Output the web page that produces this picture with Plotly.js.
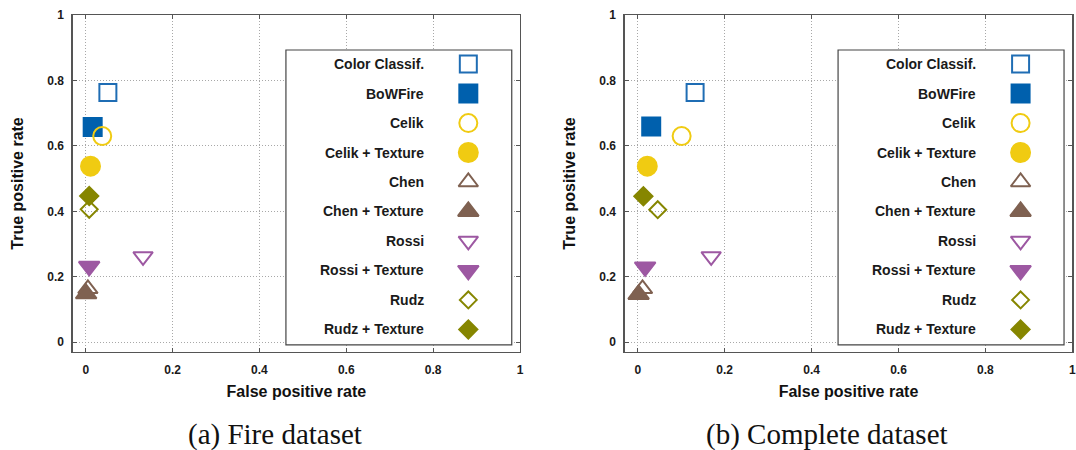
<!DOCTYPE html>
<html>
<head>
<meta charset="utf-8">
<script src="https://cdn.plot.ly/plotly-3.0.1.min.js"></script>
<style>html,body{margin:0;padding:0;background:#fff;}#chart{width:1076px;height:450px;}</style>
</head>
<body>
<div id="chart"></div>
<script>
// ---- data ----
const methods = ['Color Classif.', 'BoWFire', 'Celik', 'Celik + Texture', 'Chen', 'Chen + Texture', 'Rossi', 'Rossi + Texture', 'Rudz', 'Rudz + Texture'];
const fireFPR = [0.051, 0.016, 0.038, 0.011, 0.005, 0.001, 0.132, 0.008, 0.008, 0.008];
const fireTPR = [0.763, 0.658, 0.630, 0.538, 0.163, 0.148, 0.262, 0.232, 0.406, 0.447];
const completeFPR = [0.132, 0.031, 0.101, 0.022, 0.011, 0.002, 0.169, 0.017, 0.046, 0.013];
const completeTPR = [0.763, 0.659, 0.630, 0.538, 0.163, 0.146, 0.262, 0.230, 0.405, 0.446];
const tickVals = [0, 0.2, 0.4, 0.6, 0.8, 1];
const tickText = ['0', '0.2', '0.4', '0.6', '0.8', '1'];
const captions = ['(a) Fire dataset', '(b) Complete dataset'];

// ---- styles ----
const symbols = ['square-open', 'square', 'circle-open', 'circle', 'triangle-up-open', 'triangle-up', 'triangle-down-open', 'triangle-down', 'diamond-open', 'diamond'];
const colors = ['#1f6db4', '#0060ad', '#f0cb12', '#f0cb12', '#7f6151', '#7f6151', '#9d58a2', '#9d58a2', '#868600', '#868600'];
const sizes = [17, 18, 18, 19, 17, 18, 17, 18, 13, 14];

const font = 'Liberation Sans, Arial, sans-serif';
const traces = [];
const annotations = [];
const shapes = [];

function rowY(i) { return 0.850 - 0.0901 * i; }

function addPanel(fpr, tpr, xa, ya) {
  methods.forEach((m, i) => {
    traces.push({
      type: 'scatter', mode: 'markers', name: m,
      x: [fpr[i]], y: [tpr[i]], xaxis: xa, yaxis: ya,
      showlegend: false, hoverinfo: 'name+x+y',
      marker: { symbol: symbols[i], size: sizes[i], color: colors[i], line: { width: 2, color: colors[i] } }
    });
  });
  // custom legend (symbol on right, right-aligned labels)
  const xref = xa === 'x' ? 'x' : 'x2';
  const yref = ya === 'y' ? 'y' : 'y2';
  shapes.push({ type: 'rect', xref: xref, yref: yref, x0: 0.461, x1: 0.981, y0: -0.008, y1: 0.893,
    line: { color: '#444', width: 1.2 }, fillcolor: '#ffffff', layer: 'between' });
  methods.forEach((m, i) => {
    traces.push({
      type: 'scatter', mode: 'markers', name: m,
      x: [0.881], y: [rowY(i)], xaxis: xa, yaxis: ya,
      showlegend: false, hoverinfo: 'skip',
      marker: { symbol: symbols[i], size: sizes[i], color: colors[i], line: { width: 2, color: colors[i] } }
    });
    annotations.push({ xref: xref, yref: yref, x: 0.784, y: rowY(i), text: m, showarrow: false,
      xanchor: 'right', yanchor: 'middle', font: { family: font, size: 14, color: '#1a1a1a', weight: 'bold' } });
  });
}
addPanel(fireFPR, fireTPR, 'x', 'y');
addPanel(completeFPR, completeTPR, 'x2', 'y2');

annotations.push({ xref: 'paper', yref: 'paper', x: 275 / 1076, y: 1 - 434 / 450, text: captions[0], showarrow: false,
  xanchor: 'center', yanchor: 'middle', font: { family: 'Liberation Serif, Times New Roman, serif', size: 29, color: '#111' } });
annotations.push({ xref: 'paper', yref: 'paper', x: 827 / 1076, y: 1 - 434 / 450, text: captions[1], showarrow: false,
  xanchor: 'center', yanchor: 'middle', font: { family: 'Liberation Serif, Times New Roman, serif', size: 29, color: '#111' } });

function axisX(domain, anchor) {
  return {
    domain: domain, anchor: anchor, range: [-0.03, 1.0], tickvals: tickVals, ticktext: tickText,
    showgrid: true, gridcolor: '#a8a8a8', griddash: '1px,2px', gridwidth: 1, zeroline: false,
    showline: true, mirror: 'ticks', linecolor: '#555', linewidth: 1.3,
    ticks: 'inside', ticklen: 4, tickcolor: '#555', ticklabelstandoff: 6,
    tickfont: { family: font, size: 12, color: '#1a1a1a', weight: 'bold' },
    title: { text: 'False positive rate', standoff: 10, font: { family: font, size: 16, color: '#111', weight: 'bold' } },
    automargin: false, fixedrange: true
  };
}
function axisY(anchor) {
  return {
    domain: [1 - 352 / 450, 1 - 15 / 450], anchor: anchor, range: [-0.03, 1.0], tickvals: tickVals, ticktext: tickText,
    showgrid: true, gridcolor: '#a8a8a8', griddash: '1px,2px', gridwidth: 1, zeroline: false,
    showline: true, mirror: 'ticks', linecolor: '#555', linewidth: 1.3,
    ticks: 'inside', ticklen: 4, tickcolor: '#555', ticklabelstandoff: 5,
    tickfont: { family: font, size: 12, color: '#1a1a1a', weight: 'bold' },
    title: { text: 'True positive rate', standoff: 19, font: { family: font, size: 16, color: '#111', weight: 'bold' } },
    automargin: false, fixedrange: true
  };
}

const layout = {
  width: 1076, height: 450,
  margin: { l: 0, r: 0, t: 0, b: 0, pad: 0 },
  paper_bgcolor: '#ffffff', plot_bgcolor: '#ffffff',
  showlegend: false,
  xaxis: axisX([72.7 / 1076, 520 / 1076], 'y'),
  yaxis: axisY('x'),
  xaxis2: axisX([624.7 / 1076, 1072.3 / 1076], 'y2'),
  yaxis2: axisY('x2'),
  shapes: shapes,
  annotations: annotations
};

Plotly.newPlot('chart', traces, layout, { displayModeBar: false, staticPlot: true });
</script>
</body>
</html>
